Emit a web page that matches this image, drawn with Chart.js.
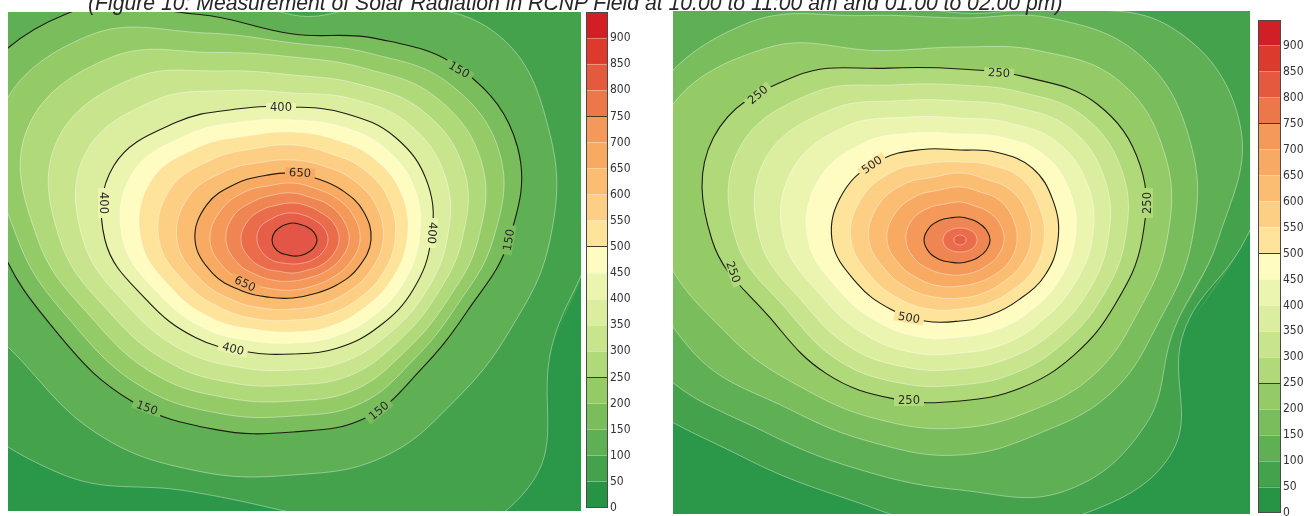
<!DOCTYPE html>
<html><head><meta charset="utf-8">
<script src="https://cdn.jsdelivr.net/npm/chart.js@4.4.1/dist/chart.umd.min.js"></script>
<style>
html,body{margin:0;padding:0;background:#fff;width:1311px;height:516px;overflow:hidden;position:relative}
canvas{position:absolute;display:block}
#title{position:absolute;left:88px;top:-6px;white-space:nowrap;font-family:'Liberation Sans',Arial,sans-serif;font-style:italic;color:#262626;line-height:1;font-size:18px}
</style></head><body>
<canvas id="leftPlot" width="573" height="499" style="left:8px;top:12px"></canvas>
<canvas id="leftBar" width="52" height="504" style="left:586px;top:12px"></canvas>
<canvas id="rightPlot" width="577" height="503" style="left:673px;top:11px"></canvas>
<canvas id="rightBar" width="53" height="501" style="left:1258px;top:20px"></canvas>
<div id="title">(Figure 10: Measurement of Solar Radiation in RCNP Field at 10.00 to 11:00 am and 01.00 to 02.00 pm)</div>
<script>
// ---------- data ----------
const ANGLES = [0,22.5,45,67.5,90,112.5,135,157.5,180,202.5,225,247.5,270,292.5,315,337.5];
const LEVELS = [50,100,150,200,250,300,350,400,450,500,550,600,650,700,750,800,850,900];
const BAR_TICKS = [0,50,100,150,200,250,300,350,400,450,500,550,600,650,700,750,800,850,900];
// colour bar bands (0-50 ... 900-950)
const BAND_COLORS = ['#279345','#44a24d','#5fb055','#7abd5d','#94cb67','#b0d97a','#c8e48c','#dbee9f','#ecf5b0','#fefcc0',
                     '#fee49a','#fdcf84','#fbbd72','#f8aa62','#f5995a','#ec7849','#e55a3e','#dd3a2e','#d21f26'];
// same bands as they appear (softened) inside the contour maps
const PLOT_COLORS = ['#2b9749','#44a24d','#5fb055','#7abd5d','#94cb67','#b0d97a','#c8e48c','#dbee9f','#ecf5b0','#fefcc0',
                     '#fee49a','#fdcf84','#fbbd72','#f8aa62','#f5995a','#ef8552','#ea6c4b','#e65e47','#e35546'];

// Left panel (10.00-11.00 am): contour radius per direction (ANGLES) around the peak
const LEFT_CENTER = [293, 240];
const LEFT_BOLD = [150, 400, 650, 900];
const L50  = [300,340,370,330,260,350,420,450,420,380,330,272,273,330,340,280];
const L100 = [257,278,290,255,225,300,380,420,380,300,275,250,235,235,228,235];
const L150 = [216,243,240,218,206,244,320,350,295,252,228,205,192,192,182,188];
const L200 = [200,224,221,202,197,224,289,319,275,233,210,188,176,177,170,176];
const L250 = [185,204,202,186,183,203,258,288,255,214,192,171,161,162,158,165];
const L300 = [169,185,183,169,165,183,228,256,233,196,174,155,145,147,146,153];
const L350 = [154,165,164,153,147,162,197,225,210,177,156,138,130,132,134,142];
const L400 = [138,146,145,137,133,142,166,194,188,158,138,121,114,117,122,130];
const L450 = [126,132,130,123,120,128,149,174,170,144,125,109,103,105,110,118];
const L500 = [114,118,115,109,108,113,132,154,152,130,112,97,92,94,98,106];
const L550 = [102,104,100,94,95,99,114,133,134,115,98,86,80,82,87,95];
const L600 = [90,90,85,80,80,84,97,113,116,101,85,74,69,70,75,83];
const L650 = [78,76,70,66,67,70,80,93,98,87,72,62,58,58,63,71];
const L700 = [67,65,60,56,57,59,68,78,83,74,61,53,50,50,54,61];
const L750 = [56,54,50,46,47,49,55,64,67,60,50,44,41,41,45,51];
const L800 = [46,44,39,37,37,38,43,49,52,47,40,34,33,33,37,42];
const L850 = [35,33,29,27,27,28,30,35,36,33,29,25,24,25,28,32];
const L900 = [24,22,19,17,17,17,18,20,21,20,18,16,16,17,19,22];

// Right panel (01.00-02.00 pm)
const RIGHT_CENTER = [960, 240];
const RIGHT_BOLD = [250, 500, 750];
const R50  = [285,370,380,300,270,350,420,460,440,370,307,282,290,300,300,242];
const R100 = [258,303,300,250,227,265,380,420,380,330,273,250,250,272,262,232];
const R150 = [232,250,258,240,222,243,305,340,320,290,240,220,215,209,215,215];
const R200 = [207,222,225,205,193,205,272,320,300,250,214,196,188,185,190,192];
const R250 = [182,195,193,176,171,186,232,267,248,205,189,172,161,160,162,168];
const R300 = [165,176,175,160,155,168,208,239,224,186,171,155,145,144,146,153];
const R350 = [148,157,157,144,139,151,184,211,200,168,153,138,129,128,131,138];
const R400 = [132,139,138,127,122,133,161,182,176,149,134,122,113,113,115,122];
const R450 = [115,120,120,111,106,116,137,154,152,131,116,105,97,97,100,107];
const R500 = [98,101,102,95,90,98,113,126,128,112,98,88,81,81,84,92];
const R550 = [84,86,87,81,78,83,96,107,109,96,84,75,69,69,72,79];
const R600 = [71,72,71,66,67,68,79,89,91,80,70,62,58,58,60,66];
const R650 = [57,57,56,52,53,54,62,70,73,65,56,50,46,46,49,54];
const R700 = [44,43,40,37,38,39,45,52,54,49,42,37,35,35,37,41];
const R750 = [30,28,25,23,23,24,28,33,36,33,28,24,23,23,25,28];
const R800 = [17,16,14,12.5,12,12.5,14,16,17,16,14,12.5,12,12.5,14,16];
const R850 = [6,6,5.5,5,5,5,5.5,6,6,6,5.5,5,5,5,5.5,6];

// contour labels
const LEFT_LABEL_VALUES = [150,150,150,150,400,400,400,400,650,650];
const LEFT_LABEL_X      = [459,509,379,147,281,103,432,233,300,245];
const LEFT_LABEL_Y      = [70,240,411,408,108,203,233,349,173,284];
const LEFT_LABEL_ROT    = [30,-80,-40,20,0,90,95,15,3,25];
const RIGHT_LABEL_VALUES = [250,250,250,250,250,500,500];
const RIGHT_LABEL_X      = [758,999,1148,733,909,872,909];
const RIGHT_LABEL_Y      = [95,73,203,272,401,165,318];
const RIGHT_LABEL_ROT    = [-40,3,-90,70,0,-35,10];

// ---------- build ----------
const WRAP = [15,0,1,2,3,4,5,6,7,8,9,10,11,12,13,14,15,0,1];
function contourDatasets(center, levels, radiiList, bold) {
  const items = levels.map((lvl, k) => [lvl, radiiList[k]]).sort((a, b) => b[0] - a[0]);
  return items.map(([lvl, radii]) => {
    const pts = WRAP.map(i => {
      const a = ANGLES[i] * Math.PI / 180;
      return {x: center[0] + radii[i] * Math.cos(a), y: center[1] - radii[i] * Math.sin(a)};
    });
    const n = pts.length;
    const isBold = bold.includes(lvl);
    return {
      data: pts, showLine: true, fill: 'shape',
      backgroundColor: PLOT_COLORS[lvl / 50],
      borderColor: isBold ? '#1d1d12' : 'rgba(255,255,255,0.38)',
      borderWidth: isBold ? 1.1 : 1,
      pointRadius: 0, pointHitRadius: 0, tension: 0.4,
      segment: {borderColor: c => (c.p0DataIndex === 0 || c.p0DataIndex === n - 2) ? 'rgba(0,0,0,0)' : undefined}
    };
  });
}
function labelPlugin(values, xs, ys, rots) {
  return {
    id: 'contourLabels',
    afterDatasetsDraw(chart) {
      const {ctx, scales: {x, y}} = chart;
      ctx.save();
      ctx.font = '11.5px "DejaVu Sans", sans-serif';
      values.forEach((v, i) => {
        const px = x.getPixelForValue(xs[i]), py = y.getPixelForValue(ys[i]);
        ctx.save();
        ctx.translate(px, py);
        ctx.rotate(rots[i] * Math.PI / 180);
        const t = String(v);
        const w = ctx.measureText(t).width;
        ctx.fillStyle = PLOT_COLORS[v / 50];
        ctx.fillRect(-w / 2 - 4, -5, w + 8, 10);
        ctx.fillStyle = '#2a2a2a';
        ctx.textAlign = 'center';
        ctx.textBaseline = 'middle';
        ctx.fillText(t, 0, 0.5);
        ctx.restore();
      });
      ctx.restore();
    }
  };
}
const bgPlugin = {
  id: 'bg',
  beforeDraw(chart) {
    const {ctx, chartArea: a} = chart;
    ctx.save(); ctx.fillStyle = PLOT_COLORS[0];
    ctx.fillRect(a.left, a.top, a.right - a.left, a.bottom - a.top);
    ctx.restore();
  }
};
function contourChart(id, xr, yr, datasets, plugin) {
  return new Chart(document.getElementById(id), {
    type: 'scatter',
    data: {datasets},
    options: {
      responsive: false, animation: false, events: [],
      layout: {padding: 0},
      elements: {line: {capBezierPoints: false, borderJoinStyle: 'round'}},
      plugins: {legend: {display: false}, tooltip: {enabled: false}},
      scales: {
        x: {type: 'linear', min: xr[0], max: xr[1], display: false},
        y: {type: 'linear', min: yr[0], max: yr[1], reverse: true, display: false}
      }
    },
    plugins: [bgPlugin, plugin]
  });
}
const outlinePlugin = {
  id: 'outline',
  afterDraw(chart) {
    const {ctx, chartArea: a} = chart;
    ctx.save(); ctx.strokeStyle = '#4a4a4a'; ctx.lineWidth = 1;
    ctx.strokeRect(a.left + 0.5, a.top + 0.5, a.right - a.left - 1, a.bottom - a.top - 1);
    ctx.restore();
  }
};
function colorBar(id) {
  return new Chart(document.getElementById(id), {
    type: 'bar',
    data: {
      labels: [''],
      datasets: BAND_COLORS.map(c => ({data: [50], backgroundColor: c, borderWidth: 0,
        barPercentage: 1, categoryPercentage: 1, stack: 'cb'}))
    },
    options: {
      responsive: false, animation: false, events: [],
      layout: {padding: {top: 0, bottom: 8, left: 0, right: 0}},
      plugins: {legend: {display: false}, tooltip: {enabled: false}},
      scales: {
        x: {stacked: true, display: false},
        y: {
          stacked: true, min: 0, max: 950, position: 'right',
          afterFit: s => { s.width = 30; s.paddingTop = 0; s.paddingBottom = 0; },
          ticks: {stepSize: 50, autoSkip: false, padding: 2, color: '#333',
            font: {family: "'Liberation Sans Narrow','DejaVu Sans Condensed',sans-serif", size: 12},
            callback: v => BAR_TICKS.includes(v) ? String(v) : ''},
          grid: {z: 1, drawTicks: false, lineWidth: 1,
            color: c => {
              const v = c.tick.value;
              if (v === 0 || v === 950) return 'rgba(0,0,0,0)';
              return v % 250 === 0 ? '#3d3d1c' : 'rgba(255,255,255,0.35)';
            }},
          border: {display: false}
        }
      }
    },
    plugins: [outlinePlugin]
  });
}

contourChart('leftPlot', [8, 581], [12, 511],
  contourDatasets(LEFT_CENTER, LEVELS,
    [L50,L100,L150,L200,L250,L300,L350,L400,L450,L500,L550,L600,L650,L700,L750,L800,L850,L900], LEFT_BOLD),
  labelPlugin(LEFT_LABEL_VALUES, LEFT_LABEL_X, LEFT_LABEL_Y, LEFT_LABEL_ROT));
contourChart('rightPlot', [673, 1250], [11, 514],
  contourDatasets(RIGHT_CENTER, LEVELS.slice(0, 17),
    [R50,R100,R150,R200,R250,R300,R350,R400,R450,R500,R550,R600,R650,R700,R750,R800,R850], RIGHT_BOLD),
  labelPlugin(RIGHT_LABEL_VALUES, RIGHT_LABEL_X, RIGHT_LABEL_Y, RIGHT_LABEL_ROT));
colorBar('leftBar');
colorBar('rightBar');

// title sizing
const t = document.getElementById('title');
const w0 = t.getBoundingClientRect().width;
const F = 18 * 975 / w0;
t.style.fontSize = F + 'px';
t.style.top = (10 - 0.8465 * F) + 'px';
</script>
</body></html>
